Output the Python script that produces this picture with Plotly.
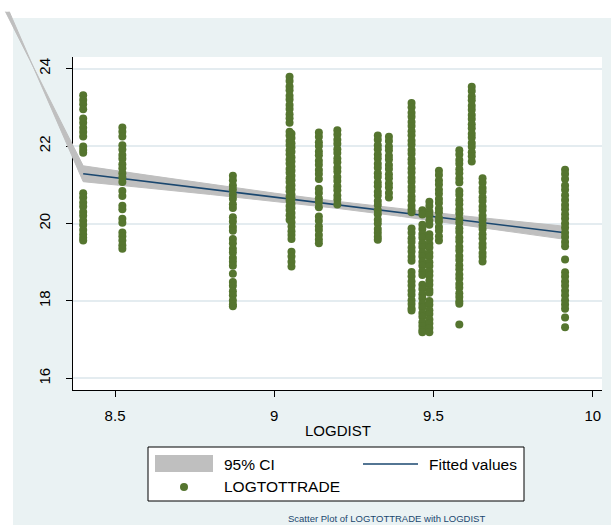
import plotly.graph_objects as go

# ---- data -------------------------------------------------------------
# LOGDIST of each country column
col_logdist = [8.400, 8.523, 8.870, 9.048, 9.054, 9.140, 9.198, 9.325, 9.360,
               9.431, 9.465, 9.487, 9.517, 9.581, 9.620, 9.654, 9.913]

# LOGTOTTRADE observations per column (same order as col_logdist)
trade_8400 = [23.31, 23.19, 23.08, 22.95, 22.71, 22.60, 22.47, 22.36, 22.25, 21.99, 21.90, 21.83,
              20.78, 20.67, 20.54, 20.44, 20.30, 20.20, 20.07, 19.96, 19.83, 19.72, 19.63, 19.56]
trade_8523 = [22.48, 22.37, 22.25, 22.02, 21.91, 21.77, 21.67, 21.53, 21.43, 21.30, 21.19, 21.07,
              20.84, 20.71, 20.46, 20.37, 20.12, 20.02, 19.77, 19.67, 19.56, 19.44, 19.35]
trade_8870 = [21.23, 21.12, 20.98, 20.88, 20.74, 20.64, 20.50, 20.40, 20.16, 20.05, 19.91, 19.81,
              19.60, 19.49, 19.35, 19.25, 19.11, 19.01, 18.91, 18.70, 18.49, 18.39, 18.25, 18.15,
              18.01, 17.91, 17.86]
trade_9048 = [23.79, 23.68, 23.54, 23.44, 23.30, 23.20, 23.06, 22.96, 22.82, 22.72, 22.60, 22.37,
              22.27, 22.13, 22.03, 21.89, 21.79, 21.65, 21.55, 21.41, 21.31, 21.17, 21.07, 20.93,
              20.83, 20.69, 20.59, 20.45, 20.35, 20.21, 20.10]
trade_9054 = [22.32, 22.21, 22.07, 21.97, 21.85, 21.71, 21.60, 21.47, 21.36, 21.23, 21.12, 20.99,
              20.88, 20.75, 20.64, 20.51, 20.40, 20.27, 20.16, 20.03, 19.92, 19.80, 19.70, 19.60,
              19.27, 19.15, 19.01, 18.89]
trade_9140 = [22.35, 22.24, 22.10, 22.00, 21.86, 21.76, 21.62, 21.52, 21.38, 21.28, 21.15, 20.90,
              20.79, 20.65, 20.55, 20.42, 20.18, 20.07, 19.93, 19.83, 19.70, 19.59, 19.49]
trade_9198 = [22.41, 22.30, 22.16, 22.06, 21.92, 21.82, 21.68, 21.58, 21.44, 21.34, 21.20, 21.10,
              20.96, 20.86, 20.72, 20.62, 20.49]
trade_9325 = [22.27, 22.16, 22.02, 21.92, 21.78, 21.68, 21.54, 21.44, 21.30, 21.20, 21.06, 20.96,
              20.82, 20.72, 20.58, 20.48, 20.34, 20.24, 20.10, 20.00, 19.86, 19.76, 19.66, 19.58]
trade_9360 = [22.24, 22.13, 21.99, 21.89, 21.75, 21.65, 21.51, 21.41, 21.27, 21.17, 21.03, 20.93,
              20.79, 20.67]
trade_9431 = [23.11, 23.00, 22.86, 22.76, 22.62, 22.52, 22.38, 22.28, 22.14, 22.04, 21.90, 21.80,
              21.66, 21.56, 21.42, 21.32, 21.18, 21.08, 20.94, 20.84, 20.70, 20.60, 20.46, 20.36,
              20.29, 19.87, 19.76, 19.62, 19.52, 19.38, 19.28, 19.14, 19.04, 18.75, 18.64, 18.50,
              18.40, 18.26, 18.16, 18.02, 17.92, 17.81, 17.75]
trade_9465 = [20.34, 20.23, 19.97, 19.86, 19.73, 19.63, 19.49, 19.39, 19.25, 19.15, 19.01, 18.91,
              18.77, 18.67, 18.42, 18.31, 18.17, 18.07, 17.93, 17.83, 17.69, 17.59, 17.45, 17.35,
              17.25, 17.19]
trade_9487 = [20.56, 20.45, 20.31, 20.21, 20.07, 19.97, 19.72, 19.62, 19.48, 19.38, 19.24, 19.14,
              19.00, 18.90, 18.76, 18.66, 18.52, 18.42, 18.28, 18.21, 18.00, 17.90, 17.76, 17.66,
              17.52, 17.42, 17.30, 17.19]
trade_9517 = [21.36, 21.25, 21.11, 21.01, 20.87, 20.77, 20.63, 20.53, 20.39, 20.29, 20.15, 20.05,
              19.91, 19.81, 19.67, 19.56]
trade_9581 = [21.89, 21.78, 21.64, 21.54, 21.40, 21.30, 21.16, 21.06, 20.84, 20.74, 20.60, 20.50,
              20.36, 20.26, 20.12, 20.02, 19.88, 19.78, 19.64, 19.54, 19.40, 19.30, 19.16, 19.06,
              18.92, 18.82, 18.68, 18.58, 18.44, 18.34, 18.20, 18.10, 17.99, 17.93, 17.39]
trade_9620 = [23.53, 23.42, 23.28, 23.18, 23.04, 22.94, 22.80, 22.70, 22.56, 22.46, 22.32, 22.22,
              22.08, 21.98, 21.84, 21.74, 21.60]
trade_9654 = [21.17, 21.06, 20.92, 20.82, 20.68, 20.58, 20.44, 20.34, 20.20, 20.10, 19.96, 19.86,
              19.72, 19.62, 19.48, 19.38, 19.24, 19.14, 19.02]
trade_9913 = [21.39, 21.28, 21.15, 20.98, 20.87, 20.73, 20.61, 20.48, 20.37, 20.24, 20.13, 20.00,
              19.89, 19.76, 19.65, 19.52, 19.41, 19.07, 18.74, 18.63, 18.50, 18.39, 18.26, 18.15,
              18.02, 17.91, 17.80, 17.57, 17.32]

# linear fit and its 95% confidence band
fit_x = [8.400, 9.913]
fit_y = [21.285, 19.760]
band_x = [8.400, 8.600, 8.800, 9.000, 9.200, 9.400, 9.600, 9.800, 9.913]
band_upper = [21.490, 21.250, 21.015, 20.785, 20.570, 20.373, 20.193, 20.023, 19.929]
band_lower = [21.080, 20.916, 20.749, 20.575, 20.388, 20.181, 19.957, 19.725, 19.591]
# stray first vertex of the band polygon
band_origin_x = [8.156, 8.168]
band_origin_y = [25.47, 25.47]

x_ticks = [8.5, 9, 9.5, 10]
x_ticktext = ["8.5", "9", "9.5", "10"]
y_ticks = [16, 18, 20, 22, 24]

# ---- geometry ---------------------------------------------------------
W, H = 611, 525
PL, PR, PT, PB = 73, 602, 57, 390          # plot region in pixels
x_range = [8.368, 10.029]
y_range = [15.70, 24.30]

FONT = "Liberation Sans, Arial, sans-serif"
NAVY = "#1A476F"
GREEN = "#55752F"
BAND = "#BFBFBF"
BLUISH = "#EAF2F3"

# full-canvas axes with the same scale, so the band can run past the frame
sx = (x_range[1] - x_range[0]) / (PR - PL)
sy = (y_range[1] - y_range[0]) / (PB - PT)
x2_range = [x_range[0] - PL * sx, x_range[1] + (W - PR) * sx]
y2_range = [y_range[0] - (H - PB) * sy, y_range[1] + PT * sy]

trade_cols = [trade_8400, trade_8523, trade_8870, trade_9048, trade_9054, trade_9140,
              trade_9198, trade_9325, trade_9360, trade_9431, trade_9465, trade_9487,
              trade_9517, trade_9581, trade_9620, trade_9654, trade_9913]
pts_x, pts_y = [], []
for xv, ys in zip(col_logdist, trade_cols):
    pts_x += [xv] * len(ys)
    pts_y += ys

poly_x = [band_origin_x[0]] + band_x + band_x[::-1] + [band_origin_x[1]]
poly_y = [band_origin_y[0]] + band_upper + band_lower[::-1] + [band_origin_y[1]]

fig = go.Figure()
# keeps the framed axes alive
fig.add_trace(go.Scatter(x=[], y=[], xaxis="x", yaxis="y", showlegend=False))
fig.add_trace(go.Scatter(x=poly_x, y=poly_y, fill="toself", fillcolor=BAND,
                         mode="lines", line=dict(color=BAND, width=1),
                         xaxis="x2", yaxis="y2", showlegend=False, hoverinfo="skip"))
fig.add_trace(go.Scatter(x=fit_x, y=fit_y, mode="lines",
                         line=dict(color=NAVY, width=1.6),
                         xaxis="x2", yaxis="y2", showlegend=False))
fig.add_trace(go.Scatter(x=pts_x, y=pts_y, mode="markers",
                         marker=dict(color=GREEN, size=8, line=dict(width=0)),
                         xaxis="x2", yaxis="y2", showlegend=False))

def px_x(p):
    return p / W

def px_y(p):
    return 1 - p / H

shapes = [
    # graph region and plot region
    dict(type="rect", xref="paper", yref="paper", x0=px_x(13), x1=1, y0=0, y1=px_y(18),
         fillcolor=BLUISH, line=dict(width=0), layer="below"),
    dict(type="rect", xref="paper", yref="paper", x0=px_x(PL), x1=px_x(PR), y0=px_y(PB), y1=px_y(PT),
         fillcolor="white", line=dict(width=0), layer="below"),
    # legend box and keys
    dict(type="rect", xref="paper", yref="paper", x0=px_x(148), x1=px_x(524), y0=px_y(501), y1=px_y(447),
         fillcolor="white", line=dict(color="black", width=1)),
    dict(type="rect", xref="paper", yref="paper", x0=px_x(155), x1=px_x(213), y0=px_y(472), y1=px_y(455),
         fillcolor=BAND, line=dict(width=0)),
    dict(type="line", xref="paper", yref="paper", x0=px_x(363), x1=px_x(418), y0=px_y(464), y1=px_y(464),
         line=dict(color=NAVY, width=1.6)),
    dict(type="circle", xref="paper", yref="paper", x0=px_x(180), x1=px_x(188), y0=px_y(491), y1=px_y(483),
         fillcolor=GREEN, line=dict(width=0)),
]

annotations = [
    dict(text="LOGDIST", x=px_x((PL + PR) / 2), y=px_y(430), xref="paper", yref="paper",
         showarrow=False, xanchor="center", yanchor="middle", font=dict(size=15, color="black", family=FONT)),
    dict(text="95% CI", x=px_x(222), y=px_y(464), xref="paper", yref="paper",
         showarrow=False, xanchor="left", yanchor="middle", font=dict(size=15.5, color="black", family=FONT)),
    dict(text="Fitted values", x=px_x(427), y=px_y(464), xref="paper", yref="paper",
         showarrow=False, xanchor="left", yanchor="middle", font=dict(size=15.5, color="black", family=FONT)),
    dict(text="LOGTOTTRADE", x=px_x(222), y=px_y(486), xref="paper", yref="paper",
         showarrow=False, xanchor="left", yanchor="middle", font=dict(size=15.5, color="black", family=FONT)),
    dict(text="Scatter Plot of LOGTOTTRADE with LOGDIST", x=px_x(286), y=px_y(518), xref="paper", yref="paper",
         showarrow=False, xanchor="left", yanchor="middle", font=dict(size=9.5, color=NAVY, family=FONT)),
]

fig.update_layout(
    width=W, height=H,
    margin=dict(l=0, r=0, t=0, b=0),
    paper_bgcolor="white",
    plot_bgcolor="rgba(0,0,0,0)",
    showlegend=False,
    font=dict(family=FONT, color="black"),
    xaxis=dict(domain=[px_x(PL), px_x(PR)], range=x_range, anchor="y",
               tickvals=x_ticks, ticktext=x_ticktext, ticks="outside", ticklen=6,
               tickcolor="black", tickwidth=1, showline=True, linecolor="black", linewidth=1,
               showgrid=False, zeroline=False, tickfont=dict(size=15, color="black"),
               ticklabelstandoff=6),
    yaxis=dict(domain=[px_y(PB), px_y(PT)], range=y_range, anchor="x",
               tickvals=y_ticks, ticks="outside", ticklen=6, tickangle=-90,
               tickcolor="black", tickwidth=1, showline=True, linecolor="black", linewidth=1,
               showgrid=True, gridcolor="#E4ECF0", gridwidth=1.5, zeroline=False,
               tickfont=dict(size=15, color="black"), ticklabelstandoff=10),
    xaxis2=dict(domain=[0, 1], range=x2_range, anchor="y2", visible=False, fixedrange=True),
    yaxis2=dict(domain=[0, 1], range=y2_range, anchor="x2", visible=False, fixedrange=True),
    shapes=shapes,
    annotations=annotations,
)

fig.write_html("out.html")
